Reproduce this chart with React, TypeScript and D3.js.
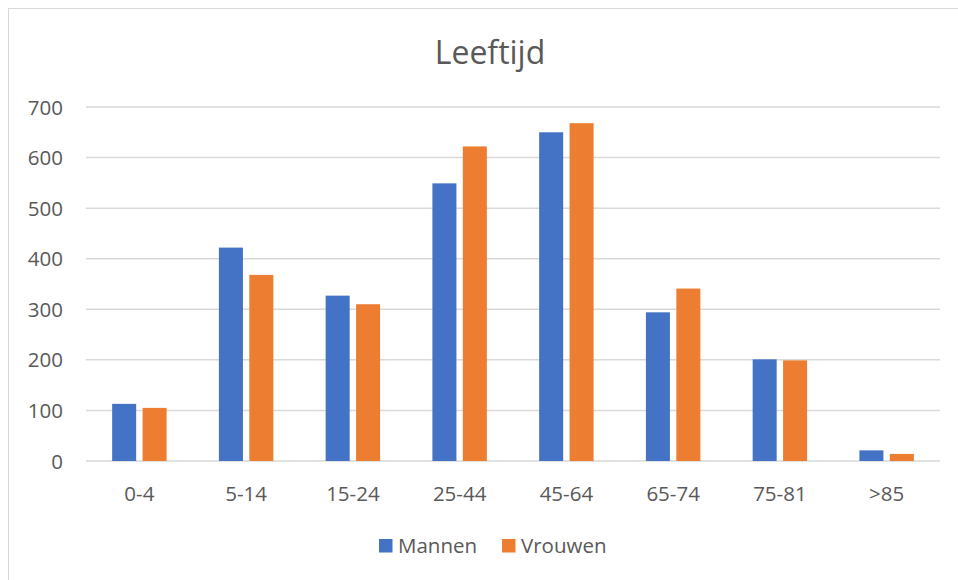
import React from "react";
import * as d3 from "d3";

const categories = ["0-4", "5-14", "15-24", "25-44", "45-64", "65-74", "75-81", ">85"];
const seriesNames = ["Mannen", "Vrouwen"];
const mannen = [113, 422, 327, 549, 650, 294, 201, 21];
const vrouwen = [105, 368, 310, 622, 668, 341, 199, 14];
const yTicks = [0, 100, 200, 300, 400, 500, 600, 700];
const colors = ["#4472C4", "#ED7D31"];

const W = 958;
const H = 580;
const plot = { left: 86, right: 940, top: 107, bottom: 461 };
const font = "'Open Sans', 'Noto Sans', sans-serif";
const textColor = "#595959";

export default function App() {
  const x = d3.scaleBand<string>().domain(categories).range([plot.left, plot.right]).padding(0);
  const y = d3.scaleLinear().domain([0, 700]).range([plot.bottom, plot.top]);
  const bw = x.bandwidth();
  const barW = bw * 0.225;
  const gap = bw * 0.06;
  const series = [mannen, vrouwen];

  return (
    <svg width={W} height={H} style={{ position: "absolute", left: 0, top: 0, background: "#fff" }}>
      <rect x={8.5} y={8.5} width={W} height={H} fill="#fff" stroke="#D9D9D9" strokeWidth={1} />
      <text x={490} y={64} textAnchor="middle" fontFamily={font} fontSize={32} fill={textColor}>
        Leeftijd
      </text>
      {yTicks.map((t) => (
        <g key={t}>
          <line x1={plot.left} x2={plot.right} y1={y(t)} y2={y(t)} stroke="#D9D9D9" strokeWidth={1.5} />
          <text x={63} y={y(t) + 7.5} textAnchor="end" fontFamily={font} fontSize={20.5} fill={textColor}>
            {t}
          </text>
        </g>
      ))}
      {categories.map((c, i) => {
        const cx = (x(c) as number) + bw / 2;
        return (
          <g key={c}>
            {series.map((s, k) => {
              const bx = k === 0 ? cx - gap / 2 - barW : cx + gap / 2;
              return (
                <rect
                  key={k}
                  x={bx}
                  y={y(s[i])}
                  width={barW}
                  height={y(0) - y(s[i])}
                  fill={colors[k]}
                />
              );
            })}
            <text x={cx} y={500.5} textAnchor="middle" fontFamily={font} fontSize={20.5} fill={textColor}>
              {c}
            </text>
          </g>
        );
      })}
      {seriesNames.map((n, k) => {
        const lx = k === 0 ? 379 : 502;
        return (
          <g key={n}>
            <rect x={lx} y={539} width={13.5} height={13.5} fill={colors[k]} />
            <text x={lx + 19} y={553} fontFamily={font} fontSize={20.5} fill={textColor}>
              {n}
            </text>
          </g>
        );
      })}
    </svg>
  );
}
